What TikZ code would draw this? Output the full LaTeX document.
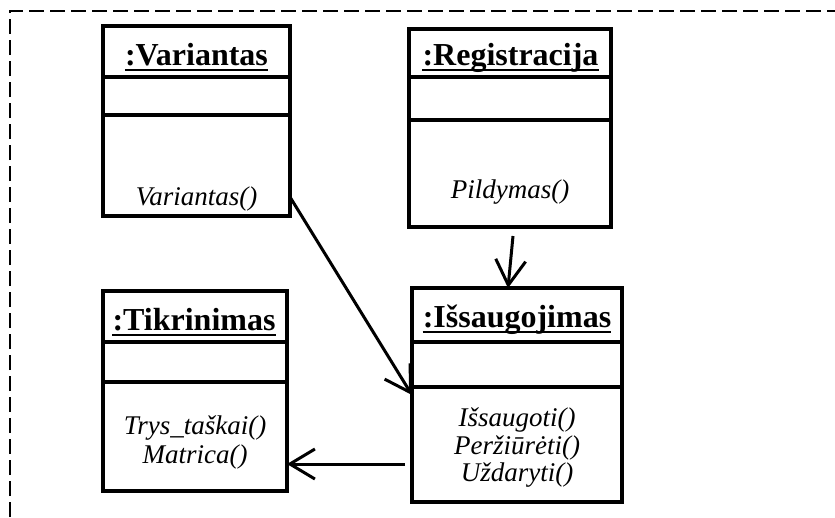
\documentclass[tikz,border=0pt]{standalone}
\usepackage{fontspec}
\setmainfont{Liberation Serif}
\usetikzlibrary{arrows.meta}
\begin{document}
\begin{tikzpicture}[x=1pt,y=-1pt,
  objbox/.style={draw, line width=3.2pt, rectangle, inner sep=0pt, outer sep=0pt, anchor=north west},
  hdr/.style={font=\fontsize{32}{36}\selectfont\bfseries, inner sep=0pt, anchor=base},
  meth/.style={font=\fontsize{27}{30}\selectfont\itshape, inner sep=0pt, anchor=base},
  uline/.style={line width=2.8pt},
  sepline/.style={line width=3.2pt},
  link/.style={line width=3pt, -{Straight Barb[length=25pt,width=30pt,line width=3pt]}},
  frameline/.style={line width=2.5pt, dash pattern=on 15pt off 6pt}]
\useasboundingbox (0,0) rectangle (835,517);

% dashed frame: top and left sides only
\coordinate (fBL) at (10,517);
\coordinate (fTL) at (10,11);
\coordinate (fTR) at (835,11);
\draw[frameline] (fBL) -- (fTL) -- (fTR);

% object boxes
\node[objbox, minimum width=187pt, minimum height=190pt] (var) at (103,26) {};
\node[objbox, minimum width=202pt, minimum height=198pt] (reg) at (409,29) {};
\node[objbox, minimum width=184pt, minimum height=200pt] (tik) at (103,291) {};
\node[objbox, minimum width=210pt, minimum height=214pt] (iss) at (412,288) {};

% compartment separators
\foreach \b/\da/\db in {var/51/89, reg/48/91, tik/51/91, iss/54/99}{
  \draw[sepline] ([yshift=-\da pt]\b.north west) -- ([yshift=-\da pt]\b.north east);
  \draw[sepline] ([yshift=-\db pt]\b.north west) -- ([yshift=-\db pt]\b.north east);
}

% object names
\node[hdr] (varT) at (196.5,65) {:Variantas};
\node[hdr] (regT) at (510.5,65) {:Registracija};
\node[hdr] (tikT) at (194,330) {:Tikrinimas};
\node[hdr] (issT) at (517,327) {:Išsaugojimas};
\foreach \t in {varT,regT,tikT,issT}{
  \draw[uline] ([yshift=-5pt]\t.base west) -- ([yshift=-5pt]\t.base east);
}

% operations
\node[meth] (varM) at (196.5,205) {Variantas()};
\node[meth] (regM) at (510,198) {Pildymas()};
\node[meth] (tikM1) at (195,434) {Trys\_taškai()};
\node[meth] (tikM2) at (195,463) {Matrica()};
\node[meth] (issM1) at (517,426) {Išsaugoti()};
\node[meth] (issM2) at (517,454) {Peržiūrėti()};
\node[meth] (issM3) at (517,481) {Uždaryti()};

% links
\draw[link] ([xshift=3pt,yshift=-9pt]reg.south) -- ([xshift=-9pt]iss.north);
\draw[link] ([yshift=19pt]var.south east) -- ([yshift=-107pt]iss.north west);
\draw[link] ([xshift=-7pt,yshift=-176pt]iss.north west) -- ([yshift=-173pt]tik.north east);
\end{tikzpicture}
\end{document}
